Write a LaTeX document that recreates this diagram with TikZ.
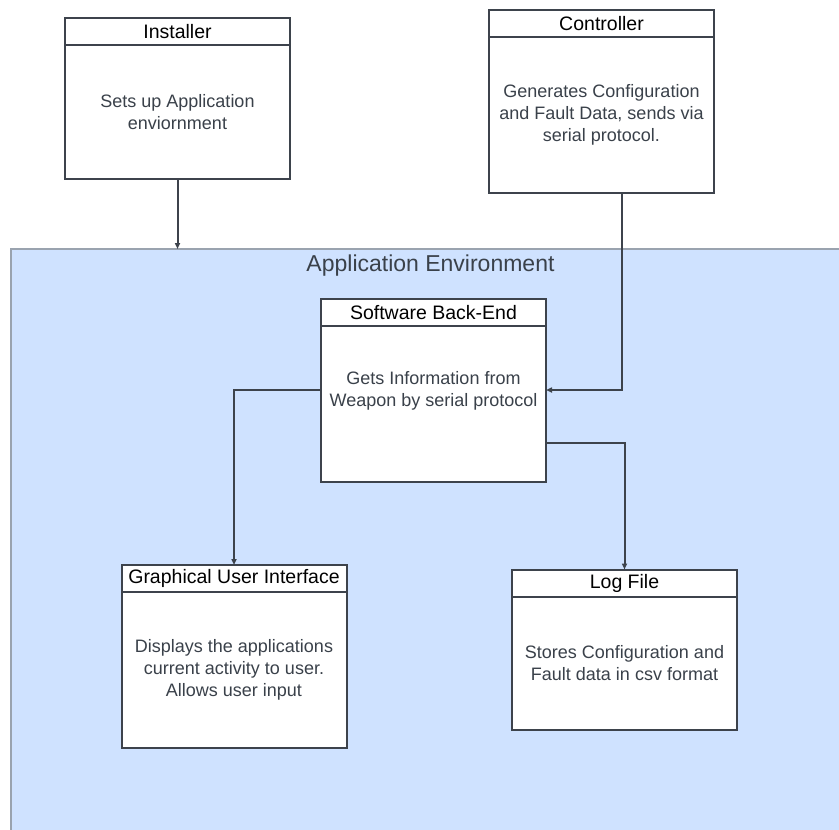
\documentclass[tikz,border=0pt]{standalone}
\usepackage{fontspec}
\setmainfont{Liberation Sans}
\usetikzlibrary{positioning,arrows.meta}
\definecolor{lineGray}{HTML}{3D434C}
\definecolor{textGray}{HTML}{3A414A}
\definecolor{envBlue}{HTML}{CFE2FF}
\definecolor{envEdge}{HTML}{9AA3AF}

\begin{document}
\begin{tikzpicture}[x=1pt, y=-1pt,
    head/.style={rectangle, draw=lineGray, fill=white, line width=2pt, outer sep=0pt,
        minimum width=225pt, minimum height=27pt, inner sep=0pt, font=\fontsize{19.5}{22}\selectfont},
    body/.style={rectangle, draw=lineGray, fill=white, line width=2pt, outer sep=0pt,
        minimum width=225pt, align=center, text=textGray, font=\fontsize{18}{22}\selectfont},
    link/.style={draw=lineGray, line width=2pt, -{Triangle[length=6pt, width=5pt]}}]
    \path[use as bounding box, clip] (0,0) rectangle (839,830);
    \fill[white] (0,0) rectangle (839,830);
    \node[rectangle, draw=envEdge, fill=envBlue, line width=1.5pt, outer sep=0pt,
        minimum width=839pt, minimum height=591pt] (env) at (430.5,544.5) {};
    \node[below=6pt of env.north, inner sep=0pt, text=textGray,
        font=\fontsize{23}{26}\selectfont] (envtitle) {Application Environment};

    \node[head] (inst) at (177.5,31.5) {Installer};
    \node[body, minimum height=134pt, below=0pt of inst] (instb) {Sets up Application\\enviornment};

    \node[head] (ctrl) at (601.5,23.5) {Controller};
    \node[body, minimum height=156pt, below=0pt of ctrl] (ctrlb) {Generates Configuration\\and Fault Data, sends via\\serial protocol.};

    \node[head] (back) at (433.5,312.5) {Software Back-End};
    \node[body, minimum height=156pt, text depth=30pt, below=0pt of back] (backb) {Gets Information from\\Weapon by serial protocol};

    \node[head] (gui) at (234,578.5) {Graphical User Interface};
    \node[body, minimum height=156pt, below=0pt of gui] (guib) {Displays the applications\\current activity to user.\\Allows user input};

    \node[head] (log) at (624.5,583) {Log File};
    \node[body, minimum height=133pt, below=0pt of log] (logb) {Stores Configuration and\\Fault data in csv format};

    \draw[link] (instb.south) -- (instb.south |- env.north);
    \draw[link] ([xshift=20.5pt]ctrlb.south) |- ([yshift=14pt]backb.east);
    \draw[link] ([yshift=14pt]backb.west) -| (gui.north);
    \draw[link] ([yshift=-39pt]backb.east) -| (log.north);
\end{tikzpicture}
\end{document}
